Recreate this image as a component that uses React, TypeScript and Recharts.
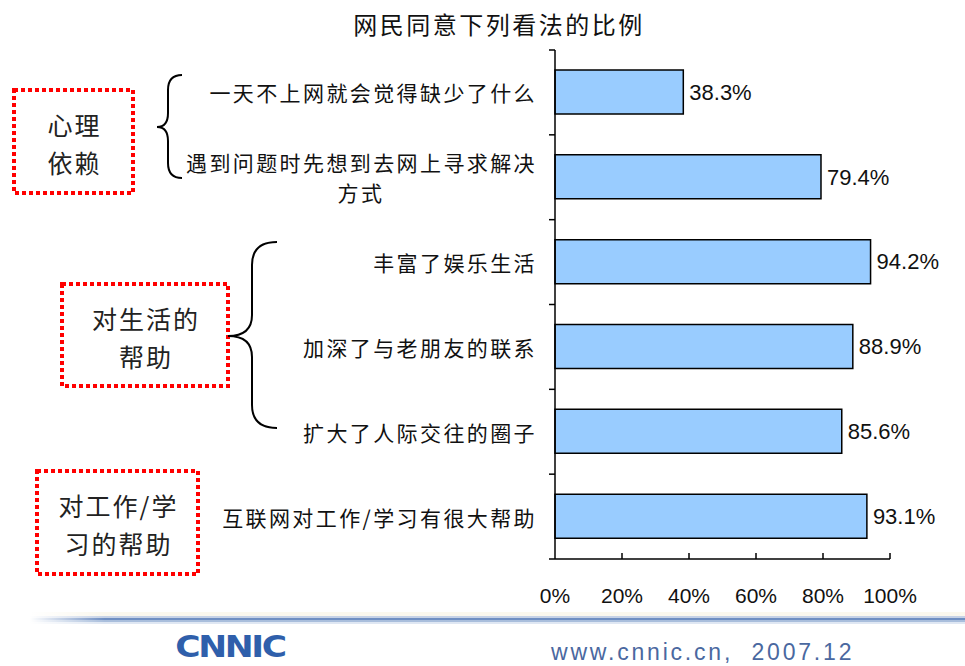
import React from "react";
import { BarChart, Bar, XAxis, YAxis, LabelList } from "recharts";

const categories = [
  "一天不上网就会觉得缺少了什么",
  "遇到问题时先想到去网上寻求解决方式",
  "丰富了娱乐生活",
  "加深了与老朋友的联系",
  "扩大了人际交往的圈子",
  "互联网对工作/学习有很大帮助",
];
const values = [38.3, 79.4, 94.2, 88.9, 85.6, 93.1];
const xTicks = [0, 20, 40, 60, 80, 100];

const groups = [
  { lines: ["心理", "依赖"], box: [14, 90, 119, 103] },
  { lines: ["对生活的", "帮助"], box: [62, 284, 166, 102] },
  { lines: ["对工作/学", "习的帮助"], box: [37, 471, 161, 103] },
];

const data = categories.map((name, i) => ({ name, value: values[i] }));

const CJK = '"Noto Sans CJK SC", sans-serif';
const LATIN = '"Liberation Sans", Arial, sans-serif';
const BAR_COLOR = "#99CCFF";

const Y_MARGIN = 20;
const X_MARGIN = 36;

function CategoryTick(props: any) {
  const { x, y, payload, index } = props;
  const axisX = x + Y_MARGIN;
  const half = payload.offset || 42.4;
  const text: string = payload.value;
  const lines = text.length > 15 ? [text.slice(0, 15), text.slice(15)] : [text];
  return (
    <g>
      <line x1={axisX - 6} x2={axisX} y1={y - half} y2={y - half} stroke="#000" strokeWidth={1.5} />
      {index === categories.length - 1 && (
        <line x1={axisX - 6} x2={axisX} y1={y + half} y2={y + half} stroke="#000" strokeWidth={1.5} />
      )}
      {lines.length === 1 ? (
        <text x={x + 2} y={y} textAnchor="end" dominantBaseline="central" fontSize={21} letterSpacing={2.4} fill="#111" fontFamily={CJK}>
          {lines[0]}
        </text>
      ) : (
        <g fontSize={21} letterSpacing={2.4} fill="#111" fontFamily={CJK}>
          <text x={x + 2} y={y - 15} textAnchor="end" dominantBaseline="central">{lines[0]}</text>
          <text x={x - 174} y={y + 15} textAnchor="middle" dominantBaseline="central">{lines[1]}</text>
        </g>
      )}
    </g>
  );
}

function PercentTick(props: any) {
  const { x, y, payload } = props;
  const axisY = y - X_MARGIN;
  return (
    <g>
      {payload.value !== 0 && (
        <line x1={x} x2={x} y1={axisY} y2={axisY - 6} stroke="#000" strokeWidth={1.5} />
      )}
      <text x={x} y={y} textAnchor="middle" dominantBaseline="central" fontSize={21} fill="#111" fontFamily={LATIN}>
        {payload.value}%
      </text>
    </g>
  );
}

export default function App() {
  return (
    <div style={{ position: "absolute", left: 0, top: 0, width: 965, height: 666, background: "#fff", overflow: "hidden" }}>
      <div
        style={{
          position: "absolute",
          left: 0,
          top: 6,
          width: 998,
          textAlign: "center",
          fontFamily: CJK,
          fontSize: 24,
          letterSpacing: 2.5,
          color: "#111",
        }}
      >
        网民同意下列看法的比例
      </div>
      <BarChart
        width={965}
        height={666}
        data={data}
        layout="vertical"
        margin={{ top: 50, right: 75, left: 0, bottom: 47 }}
        barCategoryGap={0}
      >
        <XAxis
          type="number"
          domain={[0, 100]}
          ticks={xTicks}
          height={60}
          tickSize={0}
          tickMargin={X_MARGIN}
          tickLine={false}
          axisLine={{ stroke: "#000", strokeWidth: 1.5 }}
          tick={<PercentTick />}
        />
        <YAxis
          type="category"
          dataKey="name"
          width={555}
          tickSize={0}
          tickMargin={Y_MARGIN}
          tickLine={false}
          axisLine={{ stroke: "#000", strokeWidth: 1.5 }}
          tick={<CategoryTick />}
          interval={0}
        />
        <Bar dataKey="value" barSize={44} fill={BAR_COLOR} stroke="#000" strokeWidth={1.5} isAnimationActive={false}>
          <LabelList
            dataKey="value"
            position="right"
            offset={6}
            formatter={(v: any) => `${Number(v).toFixed(1)}%`}
            style={{ fontSize: 22, fill: "#111", fontFamily: LATIN }}
          />
        </Bar>
      </BarChart>

      <svg width={965} height={666} style={{ position: "absolute", left: 0, top: 0, pointerEvents: "none" }}>
        <defs>
          <linearGradient id="fade" x1="0" x2="1" y1="0" y2="0">
            <stop offset="0" stopColor="#fff" stopOpacity={1} />
            <stop offset="0.08" stopColor="#fff" stopOpacity={0} />
          </linearGradient>
        </defs>
        {groups.map((g, i) => (
          <g key={i}>
            <rect
              x={g.box[0]}
              y={g.box[1]}
              width={g.box[2]}
              height={g.box[3]}
              fill="none"
              stroke="#ff0000"
              strokeWidth={4}
              strokeDasharray="4 3"
            />
            {g.lines.map((t, j) => (
              <text
                key={j}
                x={g.box[0] + g.box[2] / 2 + 1}
                y={g.box[1] + 34 + j * 38}
                textAnchor="middle"
                dominantBaseline="central"
                fontSize={25}
                letterSpacing={2}
                fill="#222"
                fontFamily={CJK}
              >
                {t}
              </text>
            ))}
          </g>
        ))}
        <path
          d="M182,75 Q168,75 168,90 L168,113 Q168,127 157,127 Q168,127 168,141 L168,163 Q168,178 182,178"
          fill="none"
          stroke="#000"
          strokeWidth={2}
        />
        <path
          d="M277,242 Q252,242 252,265 L252,315 Q252,336 228,336 Q252,336 252,357 L252,405 Q252,428 277,428"
          fill="none"
          stroke="#000"
          strokeWidth={2}
        />
        <rect x={30} y={612} width={935} height={4} fill="#fbf8ee" />
        <rect x={30} y={616} width={935} height={2} fill="#c6d2e6" />
        <rect x={30} y={618} width={935} height={2} fill="#6f8fc2" />
        <rect x={30} y={620} width={935} height={2} fill="#a9bedc" />
        <rect x={30} y={622} width={935} height={2} fill="#dfe7f3" />
        <rect x={30} y={610} width={935} height={16} fill="url(#fade)" />
        <text
          x={230}
          y={647}
          textAnchor="middle"
          dominantBaseline="central"
          fontSize={30}
          fontWeight={900}
          fill="#2f5fab"
          fontFamily='"DejaVu Sans", sans-serif'
          letterSpacing={-2}
          transform="translate(230,647) scale(1.15,1) translate(-230,-647)"
        >
          CNNIC
        </text>
        <text
          x={551}
          y={652}
          dominantBaseline="central"
          fontSize={23}
          letterSpacing={2.8}
          fill="#4a68a0"
          fontFamily={LATIN}
          style={{ whiteSpace: "pre" }}
        >
          {"www.cnnic.cn,  2007.12"}
        </text>
      </svg>
    </div>
  );
}
